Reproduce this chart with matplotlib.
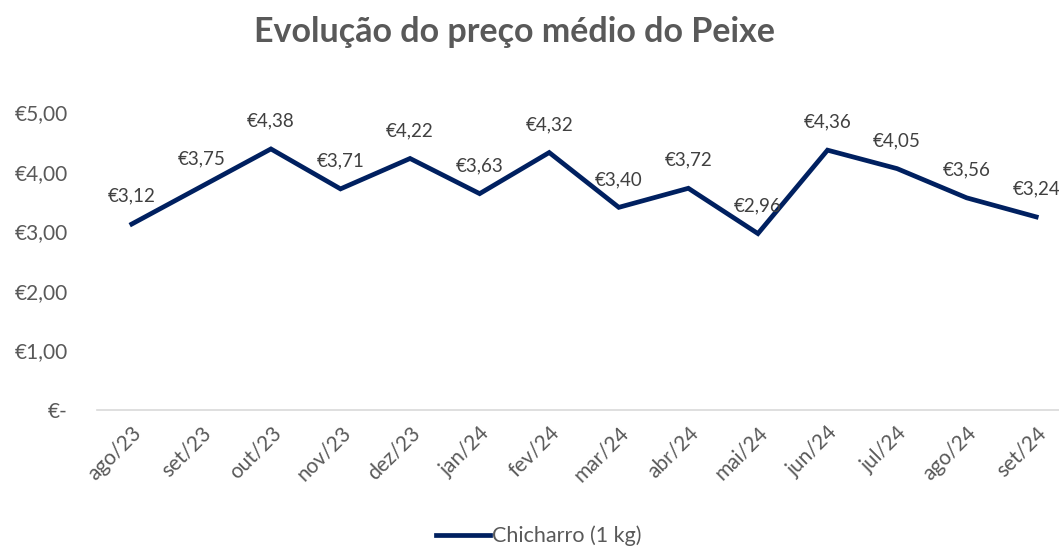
import matplotlib
matplotlib.use("Agg")
import matplotlib.pyplot as plt
from matplotlib.ticker import FuncFormatter

plt.rcParams['font.family'] = ['Lato', 'DejaVu Sans']

months = ["ago/23", "set/23", "out/23", "nov/23", "dez/23", "jan/24", "fev/24",
          "mar/24", "abr/24", "mai/24", "jun/24", "jul/24", "ago/24", "set/24"]
prices = [3.12, 3.75, 4.38, 3.71, 4.22, 3.63, 4.32, 3.40, 3.72, 2.96, 4.36, 4.05, 3.56, 3.24]
series_name = "Chicharro (1 kg)"
title = "Evolução do preço médio do Peixe"

W, H = 1059, 547
fig = plt.figure(figsize=(W / 100, H / 100), dpi=100)
left, right = 97, 1071
bottom, top = 410, 112
ax = fig.add_axes([left / W, 1 - bottom / H, (right - left) / W, (bottom - top) / H])

x = list(range(len(months)))
line, = ax.plot(x, prices, color="#002060", lw=3.4, solid_joinstyle="miter", label=series_name)

for xi, v in zip(x, prices):
    ax.annotate(f"€{v:.2f}".replace(".", ","), (xi, v), xytext=(0, 14),
                textcoords="offset points", ha="center", va="bottom",
                fontsize=13.5, color="#404040", clip_on=False)

ax.set_xlim(-0.5, len(months) - 0.5)
ax.set_ylim(0, 5)
ax.set_yticks([0, 1, 2, 3, 4, 5])
ax.yaxis.set_major_formatter(FuncFormatter(lambda v, p: "€-" if v == 0 else f"€{v:.2f}".replace(".", ",")))
ax.set_xticks(x)
ax.set_xticklabels(months, rotation=45, ha="right", rotation_mode="anchor")
ax.tick_params(axis="both", length=0, labelsize=15, labelcolor="#595959")
ax.tick_params(axis="y", pad=21)
ax.tick_params(axis="x", pad=9)
for s in ["top", "right", "left"]:
    ax.spines[s].set_visible(False)
ax.spines["bottom"].set_color("#d9d9d9")
ax.spines["bottom"].set_linewidth(1.2)

fig.text(515 / W, 1 - 32 / H, title,
         ha="center", va="center", fontsize=24.5, fontweight="bold", color="#595959")

fig.legend(handles=[line], labels=[series_name], loc="center", bbox_to_anchor=(539 / W, 1 - 536 / H),
           frameon=False, fontsize=15.5, labelcolor="#595959", handlelength=2.5, handletextpad=0.1)

fig.savefig("out.png", dpi=100)
